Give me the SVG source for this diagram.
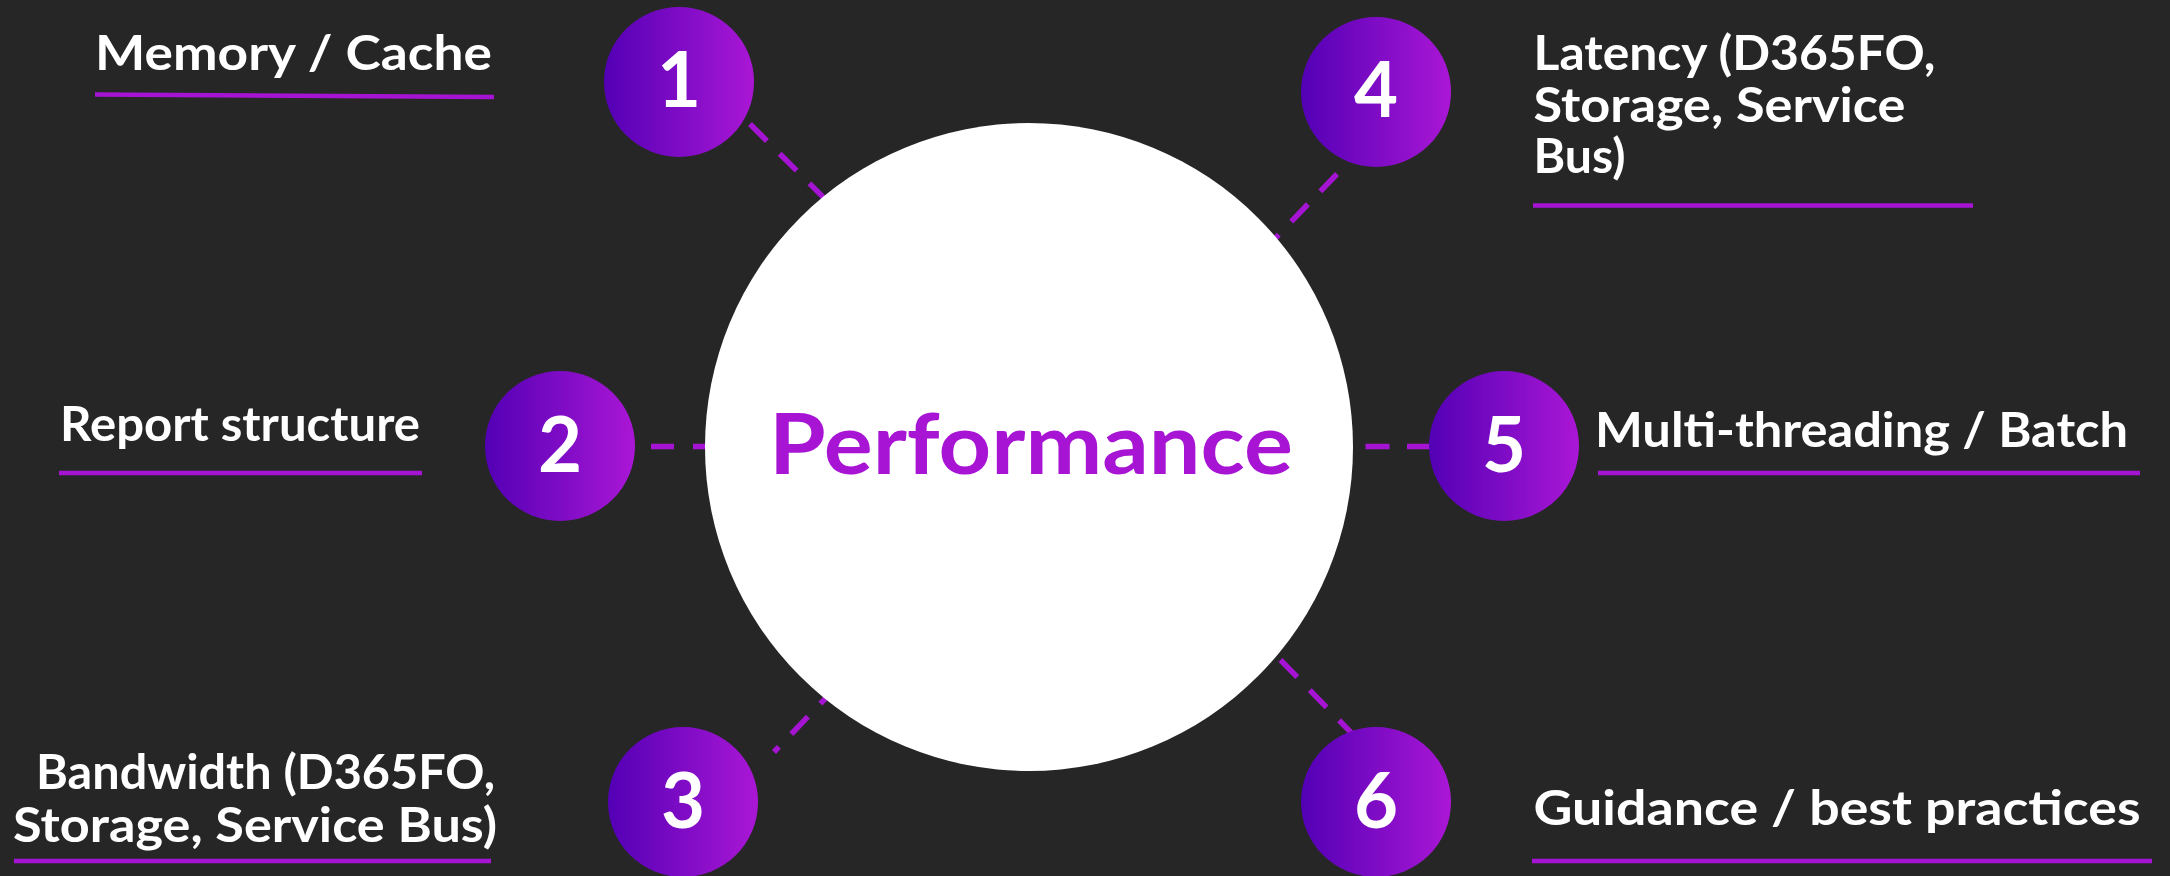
<svg xmlns="http://www.w3.org/2000/svg" width="2170" height="876" viewBox="0 0 2170 876">
  <defs>
    <linearGradient id="numGrad" x1="0" y1="0" x2="1" y2="0">
      <stop offset="0" stop-color="#5300B5"/>
      <stop offset="1" stop-color="#AA17D5"/>
    </linearGradient>
    <style>
      .label { font-family: Lato, "Liberation Sans", sans-serif; font-weight: 700; font-size: 48px; fill: #FFFFFF; }
      .num { font-family: Lato, "Liberation Sans", sans-serif; font-weight: 700; font-size: 76px; fill: #FFFFFF; text-anchor: middle; }
      .title { font-family: Lato, "Liberation Sans", sans-serif; font-weight: 700; font-size: 84px; fill: #A814D4; }
      .uline { stroke: #A614D3; stroke-width: 4.5; fill: none; }
      .conn { stroke: #A614D3; stroke-width: 5.5; fill: none; stroke-dasharray: 24 18; }
      .badge { fill: url(#numGrad); }
    </style>
  </defs>
  <rect x="0" y="0" width="2170" height="876" fill="#262626"/>

  <g id="connectors">
    <line class="conn" x1="750" y1="124" x2="860" y2="234"/>
    <line class="conn" x1="651" y1="446.5" x2="740" y2="446.5" style="stroke-dasharray: 23 19"/>
    <line class="conn" x1="774" y1="752" x2="857" y2="665.6" style="stroke-dashoffset: 17"/>
    <line class="conn" x1="1337" y1="174" x2="1237" y2="278"/>
    <line class="conn" x1="1365.5" y1="446.5" x2="1440" y2="446.5" style="stroke-dasharray: 24 17.5"/>
    <line class="conn" x1="1280.5" y1="660" x2="1370" y2="752"/>
  </g>

  <g id="center">
    <circle cx="1029" cy="447" r="324" fill="#FFFFFF"/>
    <text class="title" x="769" y="474" textLength="524" lengthAdjust="spacingAndGlyphs">Performance</text>
  </g>

  <g id="node1">
    <circle class="badge" cx="679" cy="82" r="75"/>
    <text class="num" x="679" y="107">1</text>
    <text class="label" x="95" y="70" textLength="397" lengthAdjust="spacingAndGlyphs">Memory / Cache</text>
    <line class="uline" x1="95" y1="94.5" x2="494" y2="97"/>
  </g>

  <g id="node2">
    <circle class="badge" cx="560" cy="446" r="75"/>
    <text class="num" x="560" y="471.5">2</text>
    <text class="label" x="60" y="441" textLength="360" lengthAdjust="spacingAndGlyphs">Report structure</text>
    <line class="uline" x1="59" y1="473" x2="422" y2="473"/>
  </g>

  <g id="node3">
    <circle class="badge" cx="683" cy="802" r="75"/>
    <text class="num" x="683" y="827.5">3</text>
    <text class="label" x="36" y="789" textLength="459" lengthAdjust="spacingAndGlyphs">Bandwidth (D365FO,</text>
    <text class="label" x="13" y="842" textLength="484" lengthAdjust="spacingAndGlyphs">Storage, Service Bus)</text>
    <line class="uline" x1="14" y1="861" x2="491" y2="861"/>
  </g>

  <g id="node4">
    <circle class="badge" cx="1376" cy="92" r="75"/>
    <text class="num" x="1376" y="117">4</text>
    <text class="label" x="1533.5" y="70" textLength="402" lengthAdjust="spacingAndGlyphs">Latency (D365FO,</text>
    <text class="label" x="1533.5" y="121.5" textLength="372" lengthAdjust="spacingAndGlyphs">Storage, Service</text>
    <text class="label" x="1533.5" y="173" textLength="92" lengthAdjust="spacingAndGlyphs">Bus)</text>
    <line class="uline" x1="1533" y1="205.5" x2="1973" y2="205.5"/>
  </g>

  <g id="node5">
    <circle class="badge" cx="1504" cy="446" r="75"/>
    <text class="num" x="1504" y="471.5">5</text>
    <text class="label" x="1595" y="447" textLength="533" lengthAdjust="spacingAndGlyphs">Multi-threading / Batch</text>
    <line class="uline" x1="1598" y1="473" x2="2140" y2="473"/>
  </g>

  <g id="node6">
    <circle class="badge" cx="1376" cy="802" r="75"/>
    <text class="num" x="1376" y="827.5">6</text>
    <text class="label" x="1533.5" y="825" textLength="607" lengthAdjust="spacingAndGlyphs">Guidance / best practices</text>
    <line class="uline" x1="1532" y1="861" x2="2152" y2="861"/>
  </g>
</svg>
